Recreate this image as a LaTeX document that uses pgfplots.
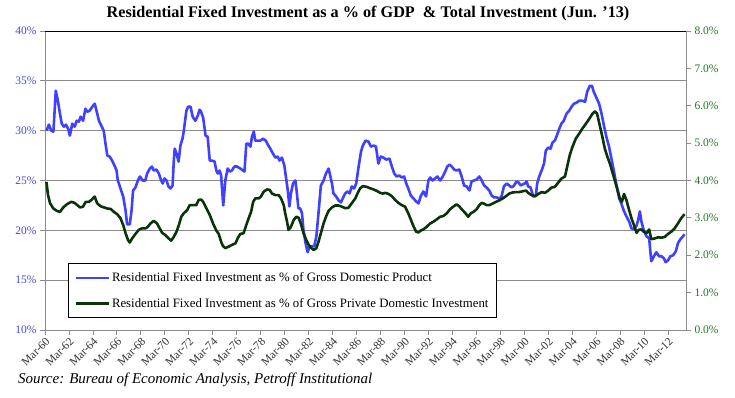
\documentclass[border=0pt]{standalone}
\usepackage{pgfplots}
\pgfplotsset{compat=1.18}
\usepackage{fontspec}
\setmainfont{Liberation Serif}
\definecolor{bline}{RGB}{64,64,255}
\definecolor{gline}{RGB}{8,52,8}
\definecolor{blab}{RGB}{72,72,220}
\definecolor{glab}{RGB}{40,115,40}
\definecolor{gridc}{RGB}{140,140,140}
\begin{document}
\begin{tikzpicture}[x=1pt,y=1pt]
\path[use as bounding box] (0,0) rectangle (735,398);
\node[font=\bfseries\fontsize{16.2}{18}\selectfont, anchor=base] at (368,380) {Residential Fixed Investment as a \% of GDP\ \ \& Total Investment (Jun. '13)};
\node[font=\itshape\fontsize{15}{17}\selectfont, anchor=base west, inner sep=0pt] at (18,14) {Source: Bureau of Economic Analysis, Petroff Institutional};
\begin{axis}[
  scale only axis, width=641pt, height=299pt,
  at={(45pt,68pt)}, anchor=south west,
  xmin=-0.5, xmax=213.5, ymin=10, ymax=40,
  ytick={10,15,...,40},
  xtick={-0.5,7.5,...,207.5},
  xticklabels={Mar-60,Mar-62,Mar-64,Mar-66,Mar-68,Mar-70,Mar-72,Mar-74,Mar-76,Mar-78,Mar-80,Mar-82,Mar-84,Mar-86,Mar-88,Mar-90,Mar-92,Mar-94,Mar-96,Mar-98,Mar-00,Mar-02,Mar-04,Mar-06,Mar-08,Mar-10,Mar-12},
  xticklabel style={rotate=45, anchor=north east, font=\fontsize{11.5}{12}\selectfont, text=black!80, inner sep=1pt},
  yticklabel={\pgfmathprintnumber{\tick}\%},
  yticklabel style={font=\fontsize{11.5}{12}\selectfont, text=blab},
  /pgf/number format/assume math mode=true,
  tick align=outside, major tick length=5pt,
  tick style={gridc, line width=0.8pt},
  ytick pos=left, xtick pos=bottom,
  axis line style={gridc, line width=0.8pt},
  ymajorgrids, grid style={gridc, line width=0.9pt},
  clip=false,
]
\addplot[bline, line width=2.6pt, line join=round] coordinates {
(0,30.0)(0.8,30.6)(1.6,30.0)(2.3,29.9)(3.1,34.0)(3.8,33.0)(4.5,31.7)(5.1,30.7)(5.8,30.4)(6.5,30.6)
(7.2,30.2)(7.8,29.5)(8.6,30.7)(9.4,30.4)(10.1,31.0)(10.8,30.9)(11.4,31.4)(12.2,31.0)(13.0,32.2)(13.6,31.9)
(14.4,32.0)(15.3,32.4)(16.1,32.7)(16.7,32.0)(17.5,31.0)(18.3,30.5)(19.1,30.0)(19.7,28.7)(20.3,27.5)(21.1,27.4)
(21.9,27.0)(22.7,26.5)(23.4,26.0)(23.8,25.0)(24.7,24.2)(25.6,23.4)(26.4,22.0)(26.9,20.6)(27.8,20.6)(28.4,22.0)
(28.9,24.0)(29.7,24.3)(30.5,25.0)(31.2,25.4)(32.1,25.0)(33.0,25.0)(33.6,25.7)(34.5,26.2)(35.2,26.4)(35.8,26.0)
(36.7,26.1)(37.5,25.7)(38.3,25.0)(38.8,24.7)(39.4,25.2)(40.1,25.0)(40.7,24.4)(41.4,24.2)(42.1,24.5)(42.5,27.0)
(42.8,28.2)(43.4,27.7)(44.1,26.9)(44.7,28.5)(45.4,29.2)(45.8,29.9)(46.7,32.0)(47.3,32.4)(48.1,32.4)(48.8,31.4)
(49.7,31.0)(50.5,31.5)(51.1,32.1)(51.6,31.9)(52.3,31.3)(53.1,29.5)(53.8,29.4)(54.5,27.0)(55.3,27.0)(56.1,26.9)
(56.7,26.0)(57.2,25.7)(57.8,26.0)(58.3,25.5)(59.0,22.5)(59.7,25.0)(60.5,26.2)(61.2,25.9)(61.9,26.0)(62.7,26.4)
(63.6,26.4)(64.7,26.2)(65.6,26.0)(66.1,25.9)(66.7,28.7)(67.3,28.7)(68.1,28.4)(68.6,29.4)(69.2,29.9)(69.7,29.0)
(70.5,29.0)(71.4,29.0)(72.3,29.2)(73.2,29.0)(73.9,28.6)(74.7,28.2)(75.6,27.7)(76.4,27.3)(77.2,27.4)(77.8,27.0)
(78.6,27.3)(79.4,26.5)(80.1,25.0)(80.6,23.9)(81.1,22.4)(81.6,23.7)(82.3,24.7)(83.1,25.0)(83.6,23.7)(84.1,22.2)
(84.7,22.2)(85.3,21.7)(85.8,20.0)(86.5,18.7)(87.2,17.8)(87.8,18.4)(88.6,18.4)(89.4,18.4)(90.1,19.4)(90.8,21.7)
(91.6,24.5)(92.5,25.0)(93.3,25.7)(94.2,26.2)(94.7,25.5)(95.3,24.7)(95.8,23.7)(96.7,23.4)(97.5,23.0)(98.3,22.8)
(98.9,23.2)(99.7,23.7)(100.5,23.9)(101.2,23.7)(101.9,24.4)(102.7,24.2)(103.4,24.7)(104.2,26.4)(105.0,27.9)(105.6,28.5)
(106.5,29.0)(107.5,28.9)(108.3,28.4)(109.2,28.5)(110.0,28.4)(110.8,26.7)(111.6,27.4)(112.5,27.3)(113.4,27.1)(114.5,27.2)
(115.3,26.4)(116.1,25.7)(116.9,25.4)(117.8,25.5)(118.6,25.3)(119.4,25.4)(120.1,24.7)(120.8,24.2)(121.6,23.5)(122.5,23.2)
(123.4,22.9)(124.2,22.7)(124.9,23.4)(125.8,23.9)(126.7,23.4)(127.5,25.0)(128.1,25.3)(128.9,25.0)(129.7,25.2)(130.5,25.4)
(131.4,25.0)(132.3,25.4)(133.1,25.9)(133.8,26.4)(134.5,26.6)(135.3,26.4)(136.1,26.1)(136.9,26.0)(137.8,26.1)(138.6,25.4)
(139.4,24.5)(140.3,24.4)(141.2,24.0)(141.9,24.9)(142.7,25.0)(143.6,25.1)(144.5,25.4)(145.3,25.0)(146.1,24.5)(146.9,24.3)
(147.8,24.0)(148.6,23.5)(149.4,23.3)(150.3,23.3)(151.2,23.2)(151.9,23.4)(152.7,24.4)(153.6,24.7)(154.5,24.5)(155.3,24.3)
(156.1,24.5)(156.9,24.9)(157.6,24.8)(158.3,24.5)(158.9,24.6)(159.7,24.7)(160.3,24.9)(160.8,24.4)(161.6,24.3)(162.5,23.4)
(163.4,23.5)(163.8,24.7)(164.5,25.4)(165.3,26.0)(166.1,26.7)(166.7,28.0)(167.5,28.3)(168.3,28.2)(168.9,28.8)(169.7,29.0)
(170.5,29.6)(171.2,30.2)(171.9,30.7)(172.7,31.0)(173.6,31.7)(174.5,32.0)(175.3,32.4)(176.1,32.7)(176.9,32.8)(177.8,33.0)
(178.9,33.0)(179.8,32.9)(180.5,33.9)(181.4,34.5)(182.1,34.5)(182.7,33.9)(183.6,33.3)(184.5,32.7)(185.3,31.7)(186.1,30.5)
(186.9,29.4)(187.8,28.4)(188.6,27.2)(189.4,26.0)(190.3,24.5)(191.2,23.2)(191.9,22.7)(192.7,22.0)(193.6,21.4)(194.5,20.9)
(195.3,20.2)(196.1,20.1)(196.9,20.4)(197.5,21.0)(198.1,21.9)(198.6,20.9)(199.4,20.0)(200.3,19.4)(201.2,19.2)(201.9,16.9)
(202.8,17.4)(203.6,17.8)(204.5,17.4)(205.3,17.4)(206.1,17.2)(206.7,16.8)(207.5,17.0)(208.3,17.4)(209.2,17.5)(210.1,17.9)
(210.8,18.7)(211.6,19.1)(212.5,19.4)(213.0,19.6)
};
\draw[black, line width=0.9pt] (rel axis cs:0,1) -- (rel axis cs:1,1);
\end{axis}
\begin{axis}[
  scale only axis, width=641pt, height=299pt,
  at={(45pt,68pt)}, anchor=south west,
  xmin=-0.5, xmax=213.5, ymin=0, ymax=8,
  ytick={0,1,...,8},
  axis x line=none, axis y line*=right,
  axis line style={gridc, line width=0.8pt},
  tick align=outside, major tick length=5pt,
  tick style={gridc, line width=0.8pt},
  yticklabel={\pgfmathprintnumber[fixed,fixed zerofill,precision=1]{\tick}\%},
  yticklabel style={font=\fontsize{11.5}{12}\selectfont, text=glab},
  /pgf/number format/assume math mode=true,
  legend style={at={(0.0359,0.0401)}, anchor=south west, draw=black, line width=0.8pt, fill=white,
    font=\fontsize{12.8}{14}\selectfont, row sep=11pt, inner xsep=6pt, inner ysep=7pt,
    /tikz/every even column/.style={column sep=3pt}},
  legend cell align=left,
  legend image code/.code={\draw[#1] (0pt,0pt) -- (33pt,0pt);},
]
\addlegendimage{bline, line width=2.6pt}
\addlegendentry{Residential Fixed Investment as \% of Gross Domestic Product}
\addplot[gline, line width=2.6pt, line join=round] coordinates {
(0,3.96)(0.5,3.61)(1.2,3.39)(2.3,3.25)(3.4,3.19)(4.5,3.16)(5.6,3.28)(6.9,3.37)(8.3,3.43)(9.4,3.40)
(10.3,3.34)(11.2,3.28)(12.2,3.30)(13.1,3.43)(14.2,3.43)(15.0,3.48)(16.1,3.57)(16.9,3.39)(18.1,3.31)(19.2,3.28)
(20.3,3.25)(21.4,3.24)(22.5,3.16)(23.6,3.10)(24.7,2.99)(25.6,2.81)(26.4,2.59)(27.2,2.41)(27.8,2.34)(28.6,2.45)
(29.7,2.57)(30.8,2.68)(31.9,2.72)(33.1,2.72)(33.8,2.76)(34.7,2.85)(35.8,2.92)(36.9,2.85)(37.8,2.72)(38.6,2.60)
(39.7,2.54)(40.8,2.45)(41.6,2.39)(42.5,2.49)(43.4,2.63)(44.2,2.81)(45.0,3.03)(45.8,3.12)(47.0,3.21)(47.8,3.34)
(48.9,3.34)(50.0,3.34)(50.8,3.48)(51.6,3.49)(52.3,3.43)(53.1,3.30)(54.5,3.08)(55.6,2.85)(56.7,2.66)(57.5,2.57)
(58.3,2.36)(58.9,2.25)(59.7,2.19)(60.8,2.23)(62.0,2.28)(63.1,2.32)(63.8,2.45)(64.7,2.57)(65.8,2.59)(66.7,2.81)
(67.5,2.99)(68.3,3.16)(69.0,3.43)(69.7,3.52)(70.8,3.52)(71.6,3.57)(72.5,3.70)(73.6,3.76)(74.5,3.75)(75.3,3.65)
(76.4,3.61)(77.5,3.61)(78.3,3.52)(79.2,3.34)(79.7,3.12)(80.3,2.90)(80.8,2.68)(81.6,2.76)(82.5,2.94)(83.4,3.03)
(84.2,3.00)(84.9,2.85)(85.8,2.59)(86.7,2.41)(87.5,2.28)(88.3,2.20)(89.2,2.14)(90.1,2.19)(90.8,2.36)(91.6,2.59)
(92.5,2.85)(93.4,3.05)(94.2,3.19)(95.3,3.28)(96.4,3.33)(97.5,3.33)(98.6,3.30)(99.7,3.26)(100.8,3.27)(101.9,3.39)
(103.1,3.52)(103.8,3.65)(104.7,3.79)(105.6,3.85)(106.9,3.83)(108.1,3.79)(109.2,3.76)(110.3,3.72)(111.4,3.67)(112.3,3.65)
(113.1,3.67)(114.2,3.64)(115.3,3.58)(116.4,3.48)(117.5,3.40)(118.6,3.34)(119.7,3.30)(120.8,3.12)(121.6,2.96)(122.5,2.78)
(123.4,2.63)(124.2,2.61)(124.9,2.66)(125.8,2.69)(126.9,2.76)(128.1,2.85)(129.2,2.90)(130.3,2.96)(131.4,3.03)(132.5,3.05)
(133.6,3.12)(134.7,3.23)(135.8,3.30)(136.9,3.36)(137.8,3.31)(138.6,3.23)(139.7,3.14)(140.8,3.03)(141.6,3.12)(142.5,3.16)
(143.6,3.23)(144.5,3.34)(145.3,3.40)(146.1,3.38)(146.9,3.34)(147.8,3.34)(148.9,3.38)(150.1,3.43)(151.2,3.47)(152.3,3.52)
(153.4,3.58)(154.5,3.65)(155.6,3.68)(156.7,3.69)(157.8,3.69)(158.9,3.71)(160.1,3.73)(160.8,3.67)(161.9,3.61)(163.1,3.58)
(164.2,3.64)(165.3,3.69)(166.4,3.67)(167.5,3.73)(168.6,3.81)(169.7,3.83)(170.8,3.94)(171.9,4.05)(173.1,4.11)(173.8,4.36)
(174.7,4.68)(175.6,4.90)(176.7,5.12)(177.8,5.25)(178.9,5.39)(180.1,5.52)(181.2,5.65)(182.3,5.79)(183.1,5.85)(183.8,5.79)
(184.7,5.48)(185.6,5.16)(186.4,4.85)(187.2,4.65)(188.1,4.45)(188.9,4.23)(189.7,4.01)(190.5,3.79)(191.4,3.52)(192.1,3.43)
(192.8,3.64)(193.6,3.48)(194.5,3.21)(195.3,2.99)(196.1,2.81)(197.0,2.60)(197.7,2.68)(198.6,2.69)(199.4,2.63)(200.3,2.59)
(201.2,2.69)(201.9,2.43)(203.1,2.45)(204.2,2.48)(205.3,2.47)(206.4,2.49)(207.5,2.57)(208.6,2.63)(209.7,2.72)(210.8,2.85)
(211.9,2.99)(213.0,3.10)
};
\addlegendentry{Residential Fixed Investment as \% of Gross Private Domestic Investment}
\end{axis}
\end{tikzpicture}
\end{document}
